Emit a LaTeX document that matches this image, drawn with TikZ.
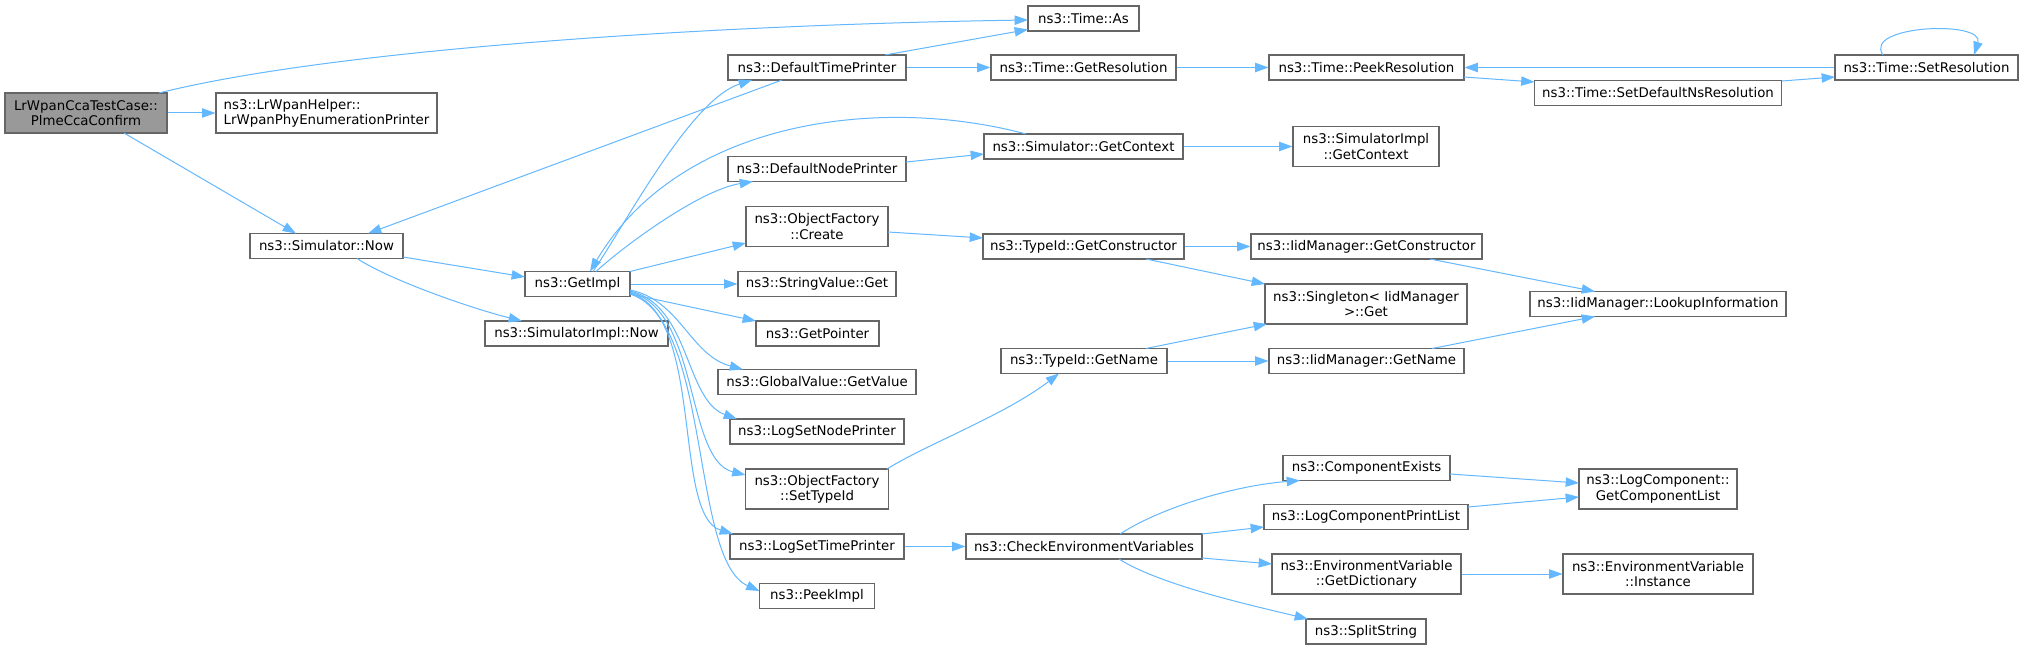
\documentclass[tikz,border=0pt]{standalone}
\usepackage{fontspec}
\setmainfont{DejaVu Sans}
\usetikzlibrary{arrows.meta,calc}
\definecolor{edgec}{HTML}{63B8FF}
\definecolor{bord}{HTML}{666666}
\definecolor{rootfill}{HTML}{999999}
\begin{document}
\begin{tikzpicture}[x=0.75pt,y=-0.75pt,
  fn/.style 2 args={draw=bord,fill=white,line width=0.8pt,inner sep=0pt,
    minimum width=#1*0.75pt,minimum height=#2*0.75pt,align=center,
    font=\fontsize{10pt}{11.4pt}\selectfont},
  ed/.style={draw=edgec,line width=0.75pt,-{Triangle[length=10pt,width=7pt]}}]
\fill[white] (0,0) rectangle (2024,649);
\useasboundingbox (0,0) rectangle (2024,649);
% nodes
\node[fn={162}{40},fill=rootfill] (a) at (86,113) {LrWpanCcaTestCase::\\PlmeCcaConfirm};
\node[fn={221}{40},align=left] (helper) at (326.5,113) {ns3::LrWpanHelper::\\LrWpanPhyEnumerationPrinter};
\node[fn={111}{25}] (tas) at (1083.5,18.5) {ns3::Time::As};
\node[fn={178}{25}] (dtp) at (817,67.5) {ns3::DefaultTimePrinter};
\node[fn={185}{25}] (gres) at (1083.5,67.5) {ns3::Time::GetResolution};
\node[fn={195}{25}] (peek) at (1366.5,67.5) {ns3::Time::PeekResolution};
\node[fn={247}{25}] (setdef) at (1658,93) {ns3::Time::SetDefaultNsResolution};
\node[fn={183}{25}] (setres) at (1926.5,67.5) {ns3::Time::SetResolution};
\node[fn={199}{25}] (sgc) at (1083.5,146.5) {ns3::Simulator::GetContext};
\node[fn={146}{40}] (sigc) at (1366,146.5) {ns3::SimulatorImpl\\::GetContext};
\node[fn={178}{25}] (dnp) at (817,169) {ns3::DefaultNodePrinter};
\node[fn={153}{25}] (snow) at (326.5,246) {ns3::Simulator::Now};
\node[fn={105}{25}] (gimpl) at (577.5,284) {ns3::GetImpl};
\node[fn={183}{25}] (sinow) at (576.5,333.5) {ns3::SimulatorImpl::Now};
\node[fn={142}{40}] (ofc) at (817,226.5) {ns3::ObjectFactory\\::Create};
\node[fn={158}{25}] (svg) at (817,284) {ns3::StringValue::Get};
\node[fn={123}{25}] (gptr) at (817.5,333.5) {ns3::GetPointer};
\node[fn={198}{25}] (gvv) at (817,382) {ns3::GlobalValue::GetValue};
\node[fn={174}{25}] (lsnp) at (817,431.5) {ns3::LogSetNodePrinter};
\node[fn={143}{40}] (ofst) at (817,489) {ns3::ObjectFactory\\::SetTypeId};
\node[fn={174}{25}] (lstp) at (817,546.5) {ns3::LogSetTimePrinter};
\node[fn={115}{25}] (pimpl) at (817,596) {ns3::PeekImpl};
\node[fn={201}{25}] (tgc) at (1083.5,246.5) {ns3::TypeId::GetConstructor};
\node[fn={166}{25}] (tgn) at (1084,361) {ns3::TypeId::GetName};
\node[fn={236}{25}] (cev) at (1084,546.5) {ns3::CheckEnvironmentVariables};
\node[fn={231}{25}] (igc) at (1366.5,246.5) {ns3::IidManager::GetConstructor};
\node[fn={202}{40}] (sing) at (1366,304) {ns3::Singleton< IidManager\\ >::Get};
\node[fn={195}{25}] (ign) at (1366.5,361) {ns3::IidManager::GetName};
\node[fn={167}{25}] (cex) at (1366.5,468) {ns3::ComponentExists};
\node[fn={204}{25}] (lcpl) at (1366,517) {ns3::LogComponentPrintList};
\node[fn={189}{40}] (gdict) at (1366.5,574) {ns3::EnvironmentVariable\\::GetDictionary};
\node[fn={120}{25}] (split) at (1366,631.5) {ns3::SplitString};
\node[fn={256}{25}] (lookup) at (1658,304) {ns3::IidManager::LookupInformation};
\node[fn={158}{40}] (gcl) at (1658,489) {ns3::LogComponent::\\GetComponentList};
\node[fn={190}{40}] (inst) at (1658,574) {ns3::EnvironmentVariable\\::Instance};
% edges
\draw[ed] ($(a)+(73,-20)$) .. controls (330,50) and (700,25) .. ($(tas)+(-55.5,1.5)$);
\draw[ed] (a.east) -- (helper.west);
\draw[ed] ($(a)+(38,20)$) -- ($(snow)+(-30.5,-12.5)$);
\draw[ed] ($(dtp)+(-35,12.5)$) -- ($(snow)+(41.5,-12.5)$);
\draw[ed] ($(dtp)+(68,-12.5)$) -- ($(tas)+(-55.5,11)$);
\draw[ed] (dtp.east) -- (gres.west);
\draw[ed] (gres.east) -- (peek.west);
\draw[ed] ($(peek)+(97.5,9.5)$) -- ($(setdef)+(-123.5,-11)$);
\draw[ed] ($(setdef)+(124,-12)$) -- ($(setres)+(-91.5,9.5)$);
\draw[ed] (setres.west) -- (peek.east);
\draw[ed] ($(setres)+(-43.5,-12.5)$) .. controls (1862,25) and (1985,20) .. ($(setres)+(47.5,-12.5)$);
\draw[ed] ($(snow)+(76.5,11)$) -- ($(gimpl)+(-52.5,-7)$);
\draw[ed] ($(snow)+(30.5,12.5)$) .. controls (390,280) and (470,308) .. ($(sinow)+(-54.5,-12.5)$);
\draw[ed] ($(gimpl)+(15.5,-12.5)$) .. controls (625,225) and (690,100) .. ($(dtp)+(-65,12.5)$);
\draw[ed] ($(sgc)+(-57.5,-12.5)$) .. controls (880,95) and (680,120) .. ($(gimpl)+(12.5,-12.5)$);
\draw[ed] ($(gimpl)+(18.5,-12.5)$) .. controls (625,245) and (700,190) .. ($(dnp)+(-64,12.5)$);
\draw[ed] ($(dnp)+(89,-7)$) -- ($(sgc)+(-99.5,7.5)$);
\draw[ed] (sgc.east) -- (sigc.west);
\draw[ed] ($(gimpl)+(52.5,-12.5)$) -- ($(ofc)+(-71,16.5)$);
\draw[ed] ($(ofc)+(71,5.5)$) -- ($(tgc)+(-100.5,-8.5)$);
\draw[ed] (gimpl.east) -- (svg.west);
\draw[ed] ($(gimpl)+(52.5,10)$) -- ($(gptr)+(-61.5,-12.5)$);
\draw[ed] ($(gimpl)+(52.5,6)$) .. controls (680,300) and (690,355) .. ($(gvv)+(-74,-12.5)$);
\draw[ed] ($(gimpl)+(52.5,7)$) .. controls (690,305) and (685,400) .. ($(lsnp)+(-80,-12.5)$);
\draw[ed] ($(gimpl)+(52.5,8)$) .. controls (700,310) and (685,460) .. ($(ofst)+(-71.5,-14)$);
\draw[ed] ($(gimpl)+(52.5,9)$) .. controls (705,315) and (672,515) .. ($(lstp)+(-84,-12.5)$);
\draw[ed] ($(gimpl)+(52.5,10)$) .. controls (712,320) and (690,560) .. ($(pimpl)+(-57.5,-5)$);
\draw[ed] ($(ofst)+(70,-20)$) .. controls (925,445) and (1005,415) .. ($(tgn)+(-25,12.5)$);
\draw[ed] (tgc.east) -- (igc.west);
\draw[ed] ($(tgc)+(62.5,12.5)$) -- ($(sing)+(-101,-20)$);
\draw[ed] ($(tgn)+(62,-12.5)$) -- ($(sing)+(-99,20)$);
\draw[ed] (tgn.east) -- (ign.west);
\draw[ed] ($(igc)+(63.5,12.5)$) -- ($(lookup)+(-63,-12.5)$);
\draw[ed] ($(ign)+(65.5,-12.5)$) -- ($(lookup)+(-63,12.5)$);
\draw[ed] (lstp.east) -- (cev.west);
\draw[ed] ($(cev)+(36,-12.5)$) .. controls (1165,505) and (1240,485) .. ($(cex)+(-66.5,12.5)$);
\draw[ed] ($(cev)+(118,-12.5)$) -- ($(lcpl)+(-102,10)$);
\draw[ed] ($(cev)+(118,11.5)$) -- ($(gdict)+(-94.5,-10)$);
\draw[ed] ($(cev)+(35,12.5)$) .. controls (1160,585) and (1250,605) .. ($(split)+(-58,-12.5)$);
\draw[ed] ($(cex)+(83.5,6)$) -- ($(gcl)+(-79,-6)$);
\draw[ed] ($(lcpl)+(102,-10)$) -- ($(gcl)+(-79,8)$);
\draw[ed] (gdict.east) -- (inst.west);
\end{tikzpicture}
\end{document}
